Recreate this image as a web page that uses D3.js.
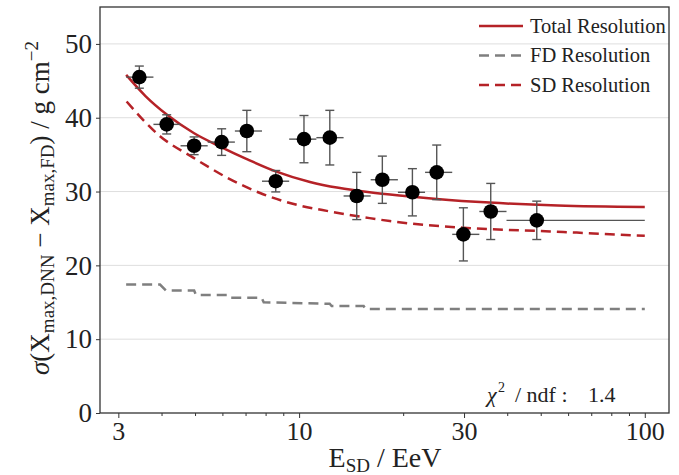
<!DOCTYPE html>
<html>
<head>
<meta charset="utf-8">
<script src="https://cdn.jsdelivr.net/npm/d3@7"></script>
<style>
  html, body { margin: 0; padding: 0; background: #fff; }
  svg { display: block; }
  text { font-family: "Liberation Serif", "DejaVu Serif", serif; fill: #222; }
</style>
</head>
<body>
<svg id="chart" width="679" height="475"></svg>
<script>
// Measured resolution per energy bin (EeV, g/cm^2)
const energy   = [3.45, 4.14, 4.97, 5.97, 7.06, 8.56, 10.33, 12.27, 14.68, 17.41, 21.27, 25.01, 29.87, 35.84, 48.7];
const sigma    = [45.5, 39.1, 36.2, 36.7, 38.2, 31.4, 37.1, 37.3, 29.4, 31.6, 29.9, 32.6, 24.2, 27.3, 26.1];
const sigmaErr = [1.5, 1.3, 1.2, 1.8, 2.8, 1.45, 3.2, 3.7, 3.2, 3.2, 3.2, 3.7, 3.6, 3.8, 2.6];
// Energy bin edges (EeV)
const binLow   = [3.16, 3.79, 4.54, 5.44, 6.52, 7.81, 9.36, 11.22, 13.45, 16.11, 19.31, 23.14, 27.73, 33.22, 39.81];
const binHigh  = [3.79, 4.54, 5.44, 6.52, 7.81, 9.36, 11.22, 13.45, 16.11, 19.31, 23.14, 27.73, 33.22, 39.81, 100];

// Total resolution fit
const totalE   = [3.16, 3.6, 4.15, 4.97, 5.97, 7.06, 8.6, 10.75, 13.0, 16.0, 20.2, 25.0, 35.6, 56.0, 100];
const totalV   = [45.8, 42.9, 40.4, 37.9, 36.0, 34.4, 32.7, 31.3, 30.5, 29.9, 29.4, 29.0, 28.5, 28.1, 27.9];
// FD resolution (stepped)
const fdE      = [3.16, 3.96, 4.12, 4.97, 5.03, 6.21, 6.30, 7.79, 7.90, 12.26, 12.42, 15.37, 15.57, 100];
const fdV      = [17.4, 17.4, 16.6, 16.6, 16.0, 16.0, 15.6, 15.6, 15.0, 14.8, 14.5, 14.5, 14.1, 14.1];
// SD resolution
const sdE      = [3.17, 3.96, 4.94, 6.18, 7.71, 9.84, 12.29, 16.0, 18.3, 29.9, 53.2, 100];
const sdV      = [42.2, 37.5, 34.6, 31.9, 29.8, 28.2, 27.3, 26.4, 26.0, 25.1, 24.6, 24.0];

const xTicksMajor = [3, 10, 30, 100];
const xTicksMinor = [4, 5, 6, 7, 8, 9, 20, 40, 50, 60, 70, 80, 90];
const yTicks      = [0, 10, 20, 30, 40, 50];
const chiLabel    = "1.4";

const svg = d3.select("#chart");
const m = { left: 100, right: 669, top: 7, bottom: 413 };

const x = d3.scaleLog().domain([2.655, 117.5]).range([m.left, m.right]);
const y = d3.scaleLinear().domain([0, 55]).range([m.bottom, m.top]);

const red = "#b52227";
const grey = "#7f7f7f";

// horizontal grid
svg.append("g").selectAll("line").data(yTicks.filter(d => d > 0)).join("line")
  .attr("x1", m.left).attr("x2", m.right)
  .attr("y1", d => y(d)).attr("y2", d => y(d))
  .attr("stroke", "#dedede").attr("stroke-width", 1);

// axes
const xAxis = d3.axisBottom(x).tickValues(xTicksMajor).tickFormat(d3.format("d")).tickSize(5).tickPadding(4);
const gx = svg.append("g").attr("transform", `translate(0,${m.bottom})`).call(xAxis);
gx.select(".domain").remove();
gx.selectAll(".tick line").attr("stroke", "#333").attr("stroke-width", 1);
gx.selectAll(".tick text").attr("font-size", 26).attr("font-family", "Liberation Serif").attr("fill", "#222");

const xMinor = d3.axisBottom(x).tickValues(xTicksMinor).tickFormat("").tickSize(3);
const gxm = svg.append("g").attr("transform", `translate(0,${m.bottom})`).call(xMinor);
gxm.select(".domain").remove();
gxm.selectAll(".tick line").attr("stroke", "#333").attr("stroke-width", 1);

const yAxis = d3.axisLeft(y).tickValues(yTicks).tickSize(4).tickPadding(4);
const gy = svg.append("g").attr("transform", `translate(${m.left},0)`).call(yAxis);
gy.select(".domain").remove();
gy.selectAll(".tick line").attr("stroke", "#333").attr("stroke-width", 1);
gy.selectAll(".tick text").attr("font-size", 27).attr("font-family", "Liberation Serif").attr("fill", "#222");

// frame
svg.append("rect").attr("x", m.left).attr("y", m.top)
  .attr("width", m.right - m.left).attr("height", m.bottom - m.top)
  .attr("fill", "none").attr("stroke", "#333").attr("stroke-width", 1.3);

// curves
const mk = (E, V) => E.map((e, i) => [e, V[i]]);
const smooth = d3.line().x(d => x(d[0])).y(d => y(d[1])).curve(d3.curveMonotoneX);
const straight = d3.line().x(d => x(d[0])).y(d => y(d[1]));

svg.append("path").attr("d", straight(mk(fdE, fdV)))
  .attr("fill", "none").attr("stroke", grey).attr("stroke-width", 2.5).attr("stroke-dasharray", "10,6");
svg.append("path").attr("d", smooth(mk(sdE, sdV)))
  .attr("fill", "none").attr("stroke", red).attr("stroke-width", 2.5).attr("stroke-dasharray", "10,6");
svg.append("path").attr("d", smooth(mk(totalE, totalV)))
  .attr("fill", "none").attr("stroke", red).attr("stroke-width", 2.5);

// data points with error bars
const pts = energy.map((e, i) => ({ e, s: sigma[i], err: sigmaErr[i], lo: binLow[i], hi: binHigh[i] }));
const gp = svg.append("g");
const ebColor = "#555";
gp.selectAll("line.xerr").data(pts).join("line").attr("class", "xerr")
  .attr("x1", d => x(d.lo)).attr("x2", d => x(d.hi))
  .attr("y1", d => y(d.s)).attr("y2", d => y(d.s))
  .attr("stroke", ebColor).attr("stroke-width", 1.4);
gp.selectAll("line.yerr").data(pts).join("line").attr("class", "yerr")
  .attr("x1", d => x(d.e)).attr("x2", d => x(d.e))
  .attr("y1", d => y(d.s - d.err)).attr("y2", d => y(d.s + d.err))
  .attr("stroke", ebColor).attr("stroke-width", 1.4);
[1, -1].forEach(sgn => {
  gp.selectAll(null).data(pts).join("line")
    .attr("x1", d => x(d.e) - 4.5).attr("x2", d => x(d.e) + 4.5)
    .attr("y1", d => y(d.s + sgn * d.err)).attr("y2", d => y(d.s + sgn * d.err))
    .attr("stroke", ebColor).attr("stroke-width", 1.4);
});
gp.selectAll("circle").data(pts).join("circle")
  .attr("cx", d => x(d.e)).attr("cy", d => y(d.s)).attr("r", 7.3)
  .attr("fill", "#000");

// legend
const legend = [
  { label: "Total Resolution", color: red, dash: null },
  { label: "FD Resolution", color: grey, dash: "10,6" },
  { label: "SD Resolution", color: red, dash: "10,6" }
];
const lg = svg.append("g");
legend.forEach((d, i) => {
  const yy = 26 + i * 29.5;
  lg.append("line").attr("x1", 479).attr("x2", 523).attr("y1", yy).attr("y2", yy)
    .attr("stroke", d.color).attr("stroke-width", 2.5)
    .attr("stroke-dasharray", d.dash);
  lg.append("text").attr("x", 530).attr("y", yy + 6.5).attr("font-size", 20.5).text(d.label);
});

// chi2 annotation
const chi = svg.append("g").attr("font-size", 22);
chi.append("text").attr("x", 487).attr("y", 402).attr("font-style", "italic").text("χ");
chi.append("text").attr("x", 498).attr("y", 392).attr("font-size", 14).text("2");
chi.append("text").attr("x", 515).attr("y", 402).text("/ ndf :");
chi.append("text").attr("x", 588).attr("y", 402).text(chiLabel);

// x axis title
const xt = svg.append("text").attr("x", 385).attr("y", 467).attr("text-anchor", "middle").attr("font-size", 28);
xt.append("tspan").text("E");
xt.append("tspan").attr("font-size", 19).attr("dy", 5).text("SD");
xt.append("tspan").attr("dy", -5).text(" / EeV");

// y axis title
const yt = svg.append("text").attr("transform", "translate(49,208) rotate(-90)")
  .attr("text-anchor", "middle").attr("font-size", 27);
yt.append("tspan").attr("font-style", "italic").text("σ");
yt.append("tspan").text("(X");
yt.append("tspan").attr("font-size", 19).attr("dy", 5).text("max,DNN");
yt.append("tspan").attr("dy", -5).text("  −  X");
yt.append("tspan").attr("font-size", 19).attr("dy", 5).text("max,FD");
yt.append("tspan").attr("dy", -5).text(") / g cm");
yt.append("tspan").attr("font-size", 19).attr("dy", -11).text("−2");
</script>
</body>
</html>
